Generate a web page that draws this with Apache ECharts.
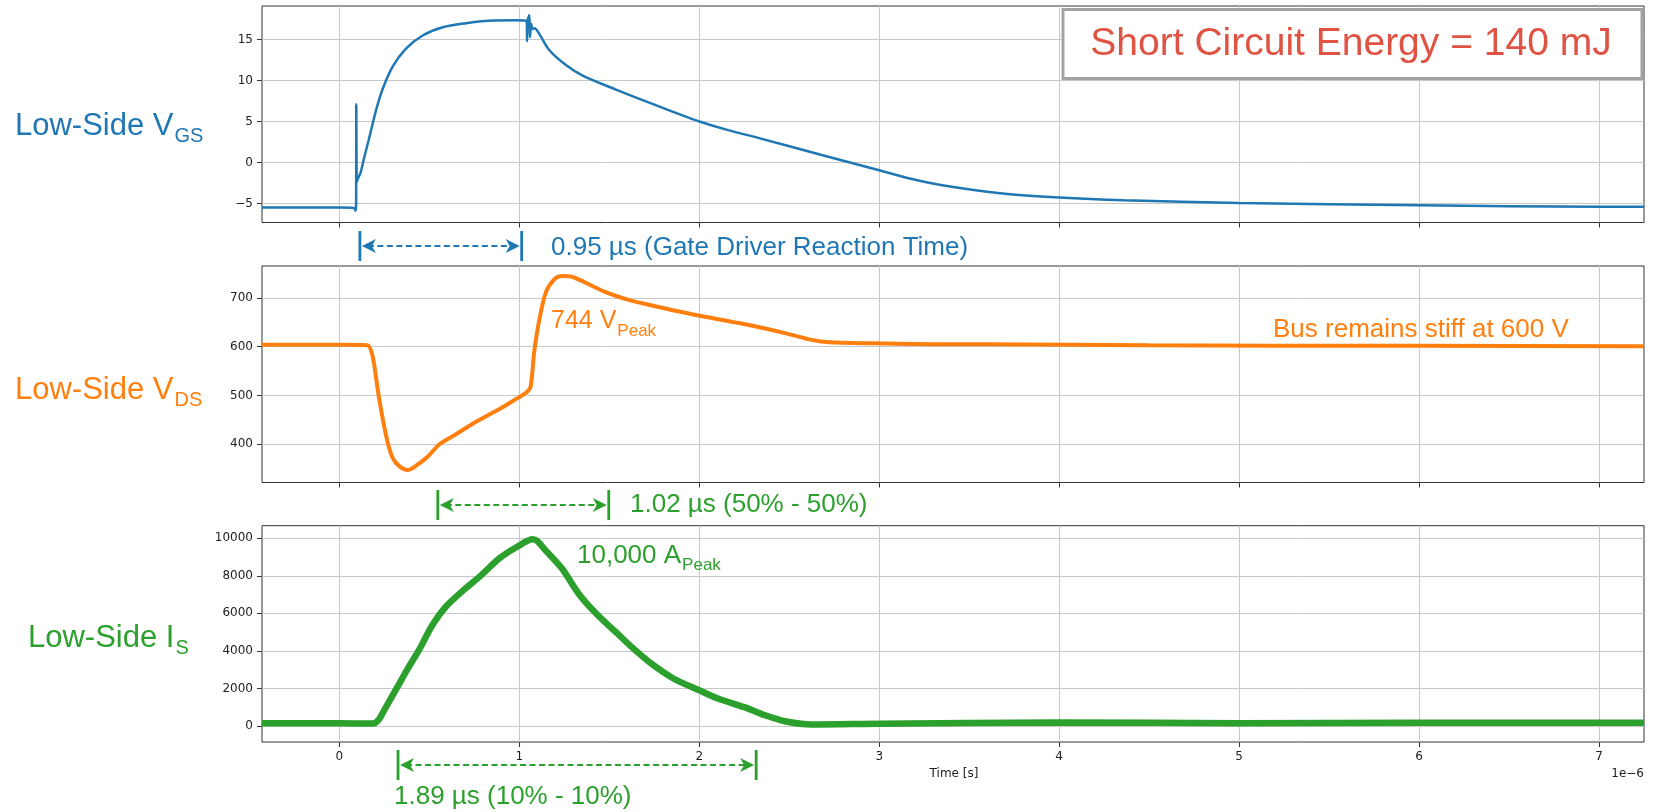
<!DOCTYPE html>
<html><head><meta charset="utf-8">
<script src="https://cdn.jsdelivr.net/npm/echarts@6/dist/echarts.min.js"></script>
<style>html,body{margin:0;padding:0;background:#fff}#c{width:1653px;height:812px}</style>
</head><body><div id="c"></div>
<script>
// ---- tick labels ----
const xTicks = [0, 1, 2, 3, 4, 5, 6, 7];
const vgsTicks = [-5, 0, 5, 10, 15];
const vdsTicks = [400, 500, 600, 700];
const isTicks = [0, 2000, 4000, 6000, 8000, 10000];

// ---- Low-Side VGS (time in µs, value in V) ----
const vgsTime = [-0.43, -0.2, 0.0, 0.08, 0.09, 0.093, 0.094, 0.097, 0.102, 0.117, 0.139, 0.167, 0.204, 0.241, 0.296, 0.37, 0.463, 0.574, 0.704, 0.833, 0.98, 1.04, 1.043, 1.046, 1.056, 1.059, 1.066, 1.074, 1.085, 1.111, 1.167, 1.259, 1.352, 1.537, 1.722, 1.907, 2.0, 2.16, 2.337, 2.675, 3.0, 3.17, 3.35, 3.686, 4.0, 4.36, 5.0, 6.0, 7.0, 7.25];
const vgsValue = [-5.5, -5.5, -5.5, -5.55, -5.9, -5.0, 7.1, -2.4, -2.0, -1.3, 0.7, 3.1, 6.4, 9.0, 11.7, 13.9, 15.5, 16.5, 17.0, 17.3, 17.35, 17.3, 14.8, 17.3, 18.0, 15.3, 16.9, 16.3, 16.4, 15.7, 13.7, 11.9, 10.6, 8.9, 7.3, 5.75, 5.0, 3.95, 2.95, 0.95, -0.94, -1.95, -2.77, -3.78, -4.27, -4.6, -4.93, -5.2, -5.4, -5.4];

// ---- Low-Side VDS (time in µs, value in V) ----
const vdsTime = [-0.43, 0.0, 0.155, 0.185, 0.213, 0.241, 0.269, 0.296, 0.333, 0.38, 0.43, 0.492, 0.556, 0.641, 0.741, 0.864, 0.926, 0.988, 1.019, 1.045, 1.063, 1.083, 1.111, 1.148, 1.194, 1.236, 1.286, 1.335, 1.48, 1.608, 1.732, 1.98, 2.228, 2.476, 2.625, 2.724, 2.972, 3.37, 3.6, 4.5, 5.2, 6.0, 7.25];
const vdsValue = [604, 604, 603, 580, 512, 452, 403, 372, 355, 347, 357, 375, 400, 419, 442, 467, 480, 494, 501, 508, 518, 590, 655, 712, 738, 745, 744, 737, 712, 696, 685, 665, 648, 628, 614, 609, 607, 605, 605, 603, 602, 602, 601];

// ---- Low-Side IS (time in µs, value in A) ----
const isTime = [-0.43, 0.0, 0.19, 0.22, 0.244, 0.318, 0.38, 0.442, 0.517, 0.591, 0.69, 0.789, 0.889, 0.988, 1.075, 1.1, 1.137, 1.236, 1.335, 1.435, 1.534, 1.633, 1.732, 1.856, 2.0, 2.104, 2.25, 2.35, 2.476, 2.625, 3.0, 4.0, 5.0, 6.0, 7.25];
const isValue = [150, 140, 130, 350, 750, 2000, 3060, 4040, 5375, 6350, 7240, 8040, 8930, 9550, 9950, 9850, 9450, 8400, 6980, 5910, 5020, 4130, 3330, 2530, 1900, 1460, 1000, 620, 250, 80, 120, 180, 150, 170, 170];

// ---- annotation spans (µs) ----
const gateArrow = [0.114, 1.013];
const vdsArrow = [0.547, 1.497];
const isArrow = [0.326, 2.316];

const BLUE = '#1f77b4', ORANGE = '#ff7f0e', GREEN = '#2ca02c';
const FONT = '"Liberation Sans", Arial, sans-serif';
const TFONT = '"DejaVu Sans", sans-serif';

const grids = [
  {left: 262, top: 6, width: 1382, height: 216.5},
  {left: 262, top: 266, width: 1382, height: 216.5},
  {left: 262, top: 525.7, width: 1382, height: 216.3}
];
const yRanges = [[-7.32, 19.1], [321.5, 765.6], [-855, 10670]];
const yTickSets = [vgsTicks, vdsTicks, isTicks];
const yIntervals = [5, 100, 2000];

const zip = (a, b) => a.map((t, i) => [t, b[i]]);
const fmt = v => String(v).replace('-', '\u2212');

const chart = echarts.init(document.getElementById('c'), null, {renderer: 'canvas'});

const option = {
  animation: false,
  backgroundColor: '#fff',
  grid: grids.map(g => Object.assign({show: true, borderColor: '#333', borderWidth: 1, backgroundColor: 'transparent', containLabel: false}, g)),
  xAxis: [0, 1, 2].map(i => ({
    type: 'value', gridIndex: i, min: -0.43, max: 7.25,
    splitNumber: 8, minInterval: 1, maxInterval: 1,
    axisLine: {show: false, onZero: false},
    axisTick: {show: true, customValues: xTicks, length: 5, lineStyle: {color: '#333', width: 1}},
    axisLabel: {show: i === 2, customValues: xTicks, margin: 9, color: '#222', fontFamily: TFONT, fontSize: 12, formatter: fmt},
    splitLine: {show: true, lineStyle: {color: '#c8c8c8', width: 1}}
  })),
  yAxis: [0, 1, 2].map(i => ({
    type: 'value', gridIndex: i, min: yRanges[i][0], max: yRanges[i][1],
    splitNumber: 5, minInterval: yIntervals[i], maxInterval: yIntervals[i],
    axisLine: {show: false, onZero: false},
    axisTick: {show: true, customValues: yTickSets[i], length: 5, lineStyle: {color: '#333', width: 1}},
    axisLabel: {show: true, customValues: yTickSets[i], margin: 9, color: '#222', fontFamily: TFONT, fontSize: 12, formatter: fmt},
    splitLine: {show: true, lineStyle: {color: '#c8c8c8', width: 1}}
  })),
  series: [
    {type: 'line', xAxisIndex: 0, yAxisIndex: 0, data: zip(vgsTime, vgsValue), symbol: 'none', smooth: 0.3, lineStyle: {color: BLUE, width: 2.5}, clip: true},
    {type: 'line', xAxisIndex: 1, yAxisIndex: 1, data: zip(vdsTime, vdsValue), symbol: 'none', smooth: 0.3, lineStyle: {color: ORANGE, width: 4}, clip: true},
    {type: 'line', xAxisIndex: 2, yAxisIndex: 2, data: zip(isTime, isValue), symbol: 'none', smooth: 0.3, lineStyle: {color: GREEN, width: 6.5}, clip: true}
  ]
};
chart.setOption(option);

// ---- overlay text & annotations ----
const mctx = document.createElement('canvas').getContext('2d');
function tw(text, size, fam) { mctx.font = size + 'px ' + (fam || FONT); return mctx.measureText(text).width; }

function txt(text, x, y, size, color, align, fam) {
  return {type: 'text', x: x, y: y, z: 200, silent: true,
    style: {text: text, fill: color, fontSize: size, fontFamily: fam || FONT, align: align || 'left', verticalAlign: 'middle', textAlign: align || 'left', textVerticalAlign: 'middle'}};
}
function subTxt(main, sub, x, y, size, subSize, subDy, color) {
  const w = tw(main, size);
  return [txt(main, x, y, size, color), txt(sub, x + w + 1, y + subDy, subSize, color)];
}
function arrow(t0, t1, y, color) {
  const x0 = chart.convertToPixel({xAxisIndex: 0}, t0);
  const x1 = chart.convertToPixel({xAxisIndex: 0}, t1);
  const els = [];
  const st = {stroke: color, lineWidth: 2.8};
  els.push({type: 'line', z: 150, silent: true, shape: {x1: x0, y1: y - 15, x2: x0, y2: y + 15}, style: st});
  els.push({type: 'line', z: 150, silent: true, shape: {x1: x1, y1: y - 15, x2: x1, y2: y + 15}, style: st});
  els.push({type: 'line', z: 150, silent: true, shape: {x1: x0 + 8, y1: y, x2: x1 - 8, y2: y}, style: {stroke: color, lineWidth: 2, lineDash: [6, 3.5]}});
  els.push({type: 'polygon', z: 151, silent: true, shape: {points: [[x0 + 2, y], [x0 + 16, y - 7], [x0 + 12, y], [x0 + 16, y + 7]]}, style: {fill: color}});
  els.push({type: 'polygon', z: 151, silent: true, shape: {points: [[x1 - 2, y], [x1 - 16, y - 7], [x1 - 12, y], [x1 - 16, y + 7]]}, style: {fill: color}});
  return els;
}

const g = [];
g.push(...subTxt('Low-Side V', 'GS', 15, 126, 31, 20, 10, BLUE));
g.push(...subTxt('Low-Side V', 'DS', 15, 390, 31, 20, 10, ORANGE));
g.push(...subTxt('Low-Side I', 'S', 28, 638, 31, 20, 10, GREEN));

g.push(...arrow(gateArrow[0], gateArrow[1], 246, BLUE));
g.push(txt('0.95 \u00b5s (Gate Driver Reaction Time)', 551, 247.5, 26, BLUE));
g.push(...arrow(vdsArrow[0], vdsArrow[1], 505, GREEN));
g.push(txt('1.02 \u00b5s (50% - 50%)', 630, 505, 26, GREEN));
g.push(...arrow(isArrow[0], isArrow[1], 765, GREEN));
g.push(txt('1.89 \u00b5s (10% - 10%)', 394, 797, 26, GREEN));

g.push(...subTxt('744 V', 'Peak', 551, 321.5, 25, 17, 9.5, ORANGE));
g.push(...subTxt('10,000 A', 'Peak', 577, 556, 26, 17, 9, GREEN));
g.push(txt('Bus remains stiff at 600 V', 1273, 330, 26, ORANGE));

g.push({type: 'rect', z: 190, silent: true, shape: {x: 1063, y: 9.5, width: 579, height: 69}, style: {fill: '#fff', stroke: '#a3a3a3', lineWidth: 3}});
g.push(txt('Short Circuit Energy = 140 mJ', 1351, 44.5, 39, '#e05343', 'center'));

g.push(txt('Time [s]', 954, 774, 12, '#222', 'center', TFONT));
g.push(txt('1e\u22126', 1644, 774, 12, '#222', 'right', TFONT));

chart.setOption({graphic: g});
</script>
</body></html>
